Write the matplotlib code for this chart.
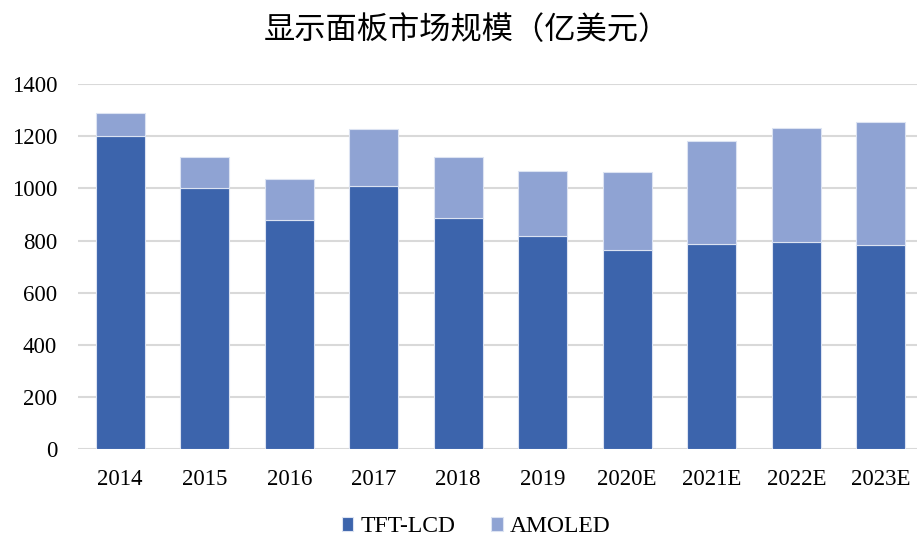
import matplotlib
matplotlib.use("Agg")
import matplotlib.pyplot as plt
import numpy as np

categories = ["2014", "2015", "2016", "2017", "2018", "2019", "2020E", "2021E", "2022E", "2023E"]
tft_lcd = [1200, 1000, 880, 1010, 888, 819, 764, 788, 794, 784]
total = [1287, 1121, 1037, 1229, 1121, 1068, 1064, 1180, 1230, 1253]
amoled = [t - l for t, l in zip(total, tft_lcd)]
yticks = [0, 200, 400, 600, 800, 1000, 1200, 1400]

serif = ["Liberation Serif", "DejaVu Serif"]
cjk = ["Noto Sans CJK SC", "DejaVu Sans"]

fig = plt.figure(figsize=(9.17, 5.38), dpi=100)
ax = fig.add_axes([78/917, 1-449.3/538, 845/917, (449.3-84)/538])

x = np.arange(len(categories))
c1 = "#3C64AC"
c2 = "#8FA3D3"
w = 0.58
ax.bar(x, tft_lcd, width=w, color=c1, edgecolor="#DCE3F2", linewidth=0.8, label="TFT-LCD", zorder=3)
ax.bar(x, amoled, width=w, bottom=tft_lcd, color=c2, edgecolor="#DCE3F2", linewidth=0.8, label="AMOLED", zorder=3)

ax.set_xlim(-0.5, len(categories) - 0.5)
ax.set_ylim(0, 1400)
ax.set_yticks(yticks)
ax.yaxis.grid(True, color="#D9D9D9", linewidth=1.5, zorder=0)
ax.set_axisbelow(True)
for s in ax.spines.values():
    s.set_visible(False)
ax.tick_params(axis="both", length=0, labelsize=16.5, colors="black")
ax.tick_params(axis="y", pad=15)
ax.tick_params(axis="x", pad=14)
ax.set_xticks(x)
ax.set_xticklabels(categories)
for lab in ax.get_xticklabels() + ax.get_yticklabels():
    lab.set_fontfamily(serif)

fig.text(467/917, 1-30/538, "显示面板市场规模（亿美元）", ha="center", va="center",
         fontsize=22.5, family=cjk, color="black")

leg = fig.legend(loc="center", bbox_to_anchor=(476/917, 1-527/538), ncol=2, frameon=False,
                 prop={"family": serif, "size": 17}, handlelength=0.5, handleheight=0.5,
                 handletextpad=0.3, columnspacing=1.5)

fig.savefig("out.png", dpi=100)
